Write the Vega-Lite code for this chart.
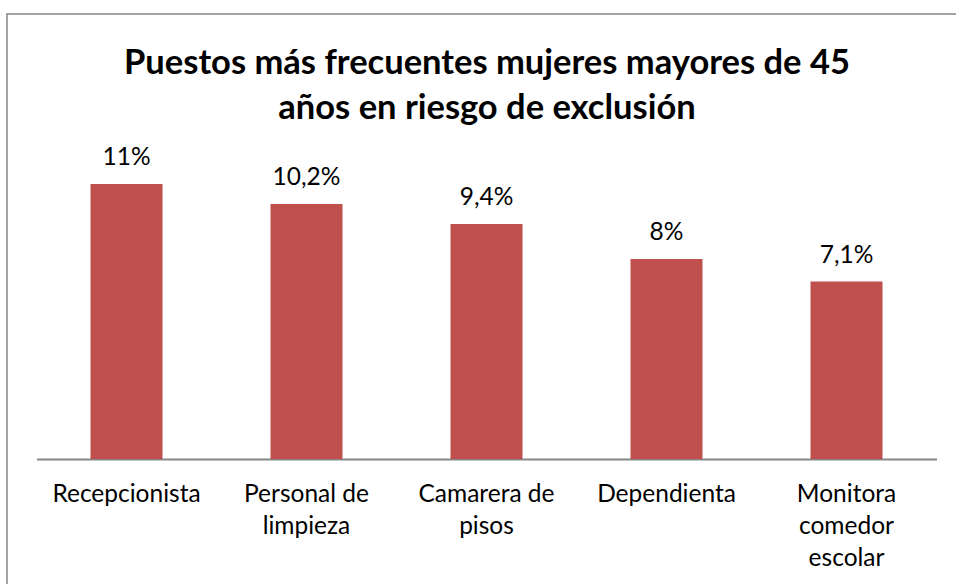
{
  "$schema": "https://vega.github.io/schema/vega-lite/v6.json",
  "width": 960,
  "height": 600,
  "autosize": "none",
  "padding": {"left": 7, "top": 14, "right": 0, "bottom": 0},
  "background": "white",
  "config": {
    "view": {"stroke": "#868686", "strokeWidth": 1.5},
    "font": "Lato"
  },
  "title": {
    "text": ["Puestos más frecuentes mujeres mayores de 45", "años en riesgo de exclusión"],
    "font": "Lato",
    "fontSize": 34.5,
    "fontWeight": "bold",
    "color": "black",
    "anchor": "middle",
    "frame": "group",
    "lineHeight": 45,
    "offset": -112
  },
  "data": {
    "values": [
      {"puesto": "Recepcionista", "valor": 11, "etiqueta": "11%"},
      {"puesto": "Personal de limpieza", "valor": 10.2, "etiqueta": "10,2%"},
      {"puesto": "Camarera de pisos", "valor": 9.4, "etiqueta": "9,4%"},
      {"puesto": "Dependienta", "valor": 8, "etiqueta": "8%"},
      {"puesto": "Monitora comedor escolar", "valor": 7.1, "etiqueta": "7,1%"}
    ]
  },
  "encoding": {
    "x": {
      "field": "puesto",
      "type": "nominal",
      "sort": null,
      "scale": {"range": [29.5, 929.5], "paddingInner": 0.6, "paddingOuter": 0.3},
      "axis": {
        "title": null,
        "ticks": false,
        "domainColor": "#868686",
        "domainWidth": 2,
        "labelFont": "Lato",
        "labelFontSize": 24.5,
        "labelColor": "black",
        "labelAngle": 0,
        "labelPadding": 23,
        "labelLineHeight": 32,
        "labelLimit": 300,
        "offset": -155,
        "labelExpr": "datum.value == 'Personal de limpieza' ? ['Personal de', 'limpieza'] : datum.value == 'Camarera de pisos' ? ['Camarera de', 'pisos'] : datum.value == 'Monitora comedor escolar' ? ['Monitora', 'comedor', 'escolar'] : datum.value"
      }
    },
    "y": {
      "field": "valor",
      "type": "quantitative",
      "scale": {"domain": [0, 14], "range": [445, 95], "nice": false},
      "axis": null
    }
  },
  "layer": [
    {"mark": {"type": "bar", "color": "#C0504D"}},
    {
      "mark": {"type": "text", "baseline": "alphabetic", "dy": -19, "fontSize": 24.5, "font": "Lato", "color": "black"},
      "encoding": {"text": {"field": "etiqueta"}}
    }
  ]
}
